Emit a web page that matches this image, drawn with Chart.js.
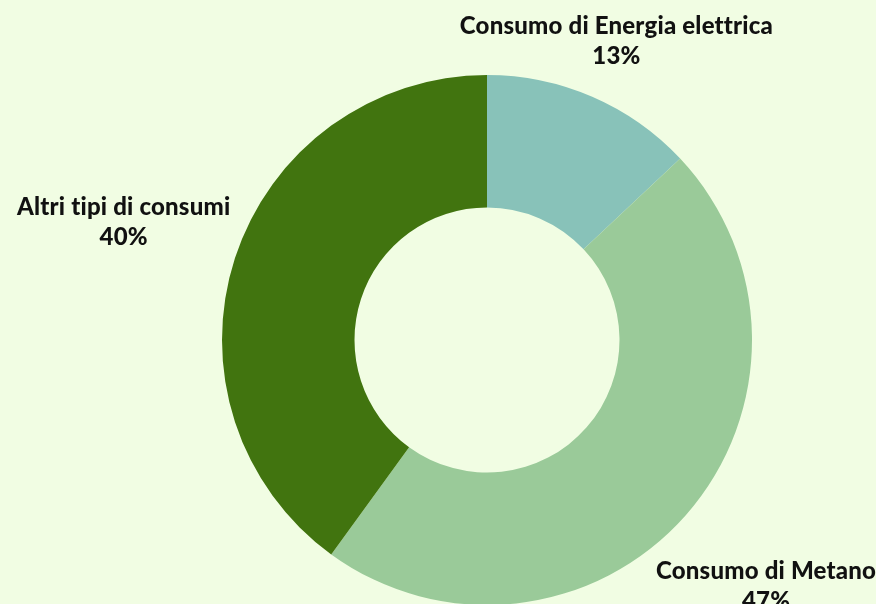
<!DOCTYPE html>
<html>
<head>
<meta charset="utf-8">
<script src="https://cdn.jsdelivr.net/npm/chart.js@4"></script>
<style>
  html, body { margin: 0; padding: 0; background: #f1fde3; overflow: hidden; }
  #box { width: 876px; height: 620px; position: relative; }
</style>
</head>
<body>
<div id="box"><canvas id="grafico"></canvas></div>
<script>
// ==============================
// DATI
// ==============================
const categorie = ["Consumo di Energia elettrica", "Consumo di Metano", "Altri tipi di consumi"];
const valori = [13, 47, 40];
const colori = ["#88c2b9", "#9aca99", "#41740f"];

// distanza delle etichette dal bordo esterno
const distanzaEtichette = [61, 107, 117];

const etichettePlugin = {
    id: "etichette",
    afterDatasetsDraw(chart) {
        const ctx = chart.ctx;
        const meta = chart.getDatasetMeta(0);
        ctx.save();
        ctx.font = "900 24px Lato";
        ctx.letterSpacing = "0.2px";
        ctx.fillStyle = "#111111";
        ctx.textAlign = "center";
        ctx.textBaseline = "middle";
        meta.data.forEach((arco, i) => {
            const p = arco.getProps(["x", "y", "startAngle", "endAngle", "outerRadius"], true);
            const a = (p.startAngle + p.endAngle) / 2;
            const r = p.outerRadius + distanzaEtichette[i];
            const x = p.x + Math.cos(a) * r;
            const y = p.y + Math.sin(a) * r;
            ctx.fillText(categorie[i], x, y - 15);
            ctx.fillText(valori[i] + "%", x, y + 15);
        });
        ctx.restore();
    }
};

new Chart(document.getElementById("grafico"), {
    type: "doughnut",
    data: {
        labels: categorie,
        datasets: [{
            data: valori,
            backgroundColor: colori,
            borderWidth: 0
        }]
    },
    options: {
        responsive: true,
        maintainAspectRatio: false,
        animation: false,
        cutout: "50%",
        layout: {
            padding: { top: 75, bottom: 15, left: 222, right: 124 }
        },
        plugins: {
            legend: { display: false },
            tooltip: { enabled: false }
        }
    },
    plugins: [etichettePlugin]
});
</script>
</body>
</html>
